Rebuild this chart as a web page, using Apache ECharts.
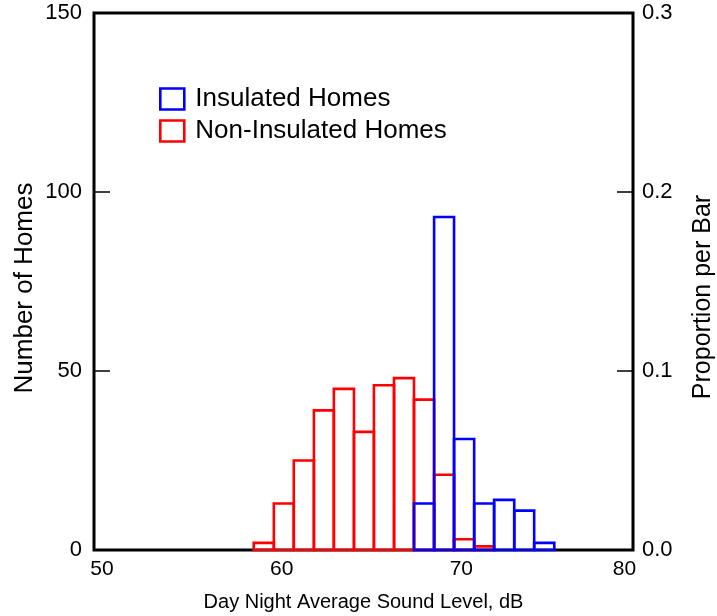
<!DOCTYPE html>
<html>
<head>
<meta charset="utf-8">
<script src="https://cdn.jsdelivr.net/npm/echarts@6/dist/echarts.min.js"></script>
<style>
  html, body { margin: 0; padding: 0; background: #fff; }
  #chart { width: 717px; height: 616px; }
</style>
</head>
<body>
<div id="chart"></div>
<script>
// Histogram bin edges (dB), one more edge than there are bins
const binEdges = [58.89, 60.01, 61.12, 62.24, 63.35, 64.47, 65.58, 66.70,
                  67.81, 68.93, 70.04, 71.16, 72.27, 73.39, 74.50, 75.62];
// Number of homes per bin
const nonInsulatedCounts = [2, 13, 25, 39, 45, 33, 46, 48, 42, 21, 3, 1, 0, 0, 0];
const insulatedCounts    = [0, 0, 0, 0, 0, 0, 0, 0, 13, 93, 31, 13, 14, 11, 2];
const xTicks = [50, 60, 70, 80];
const totalHomes = 500; // count axis max 150 corresponds to proportion 0.3

const FONT = '"Liberation Sans", Arial, sans-serif';
const BLUE = '#0000ff';
const RED = '#ff0000';

function binData(counts) {
  const out = [];
  counts.forEach((c, i) => {
    if (c > 0) out.push([binEdges[i], binEdges[i + 1], c]);
  });
  return out;
}

function histRender(color) {
  return function (params, api) {
    const p0 = api.coord([api.value(0), api.value(2)]);
    const p1 = api.coord([api.value(1), 0]);
    return {
      type: 'rect',
      shape: { x: p0[0], y: p0[1], width: p1[0] - p0[0], height: p1[1] - p0[1] },
      style: { fill: null, stroke: color, lineWidth: 2.6 }
    };
  };
}

const chart = echarts.init(document.getElementById('chart'), null, { renderer: 'canvas' });

chart.setOption({
  animation: false,
  backgroundColor: '#fff',
  grid: {
    left: 94, right: 84, top: 13, bottom: 66,
    outerBoundsMode: 'none',
    containLabel: false,
    show: true, borderColor: '#000', borderWidth: 3, backgroundColor: 'transparent'
  },
  legend: {
    orient: 'vertical',
    left: 154, top: 81,
    itemWidth: 24, itemHeight: 21,
    itemGap: 6,
    textStyle: { fontFamily: FONT, fontSize: 26, color: '#000', padding: [0, 0, 0, 6] },
    data: [
      { name: 'Insulated Homes', icon: 'rect',
        itemStyle: { color: '#fff', borderColor: BLUE, borderWidth: 2.6 } },
      { name: 'Non-Insulated Homes', icon: 'rect',
        itemStyle: { color: '#fff', borderColor: RED, borderWidth: 2.6 } }
    ]
  },
  xAxis: {
    type: 'value',
    min: 50, max: 80, interval: 10,
    name: 'Day Night Average Sound Level, dB',
    nameLocation: 'middle',
    nameGap: 42,
    nameTextStyle: { fontFamily: FONT, fontSize: 20, color: '#000' },
    axisLine: { show: false },
    axisTick: { show: false },
    splitLine: { show: false },
    axisLabel: {
      margin: 9,
      fontFamily: FONT, fontSize: 21, color: '#000',
      formatter: v => (v === xTicks[xTicks.length - 1] ? '{l|' + v + '}' : '{r|' + v + '}'),
      rich: {
        r: { fontFamily: FONT, fontSize: 21, color: '#000', padding: [0, 0, 0, 16] },
        l: { fontFamily: FONT, fontSize: 21, color: '#000', padding: [0, 17, 0, 0] }
      }
    }
  },
  yAxis: [
    {
      type: 'value',
      position: 'left',
      min: 0, max: 150, interval: 50,
      name: 'Number of Homes',
      nameLocation: 'middle',
      nameRotate: 90,
      nameGap: 56,
      nameMoveOverlap: false,
      nameTextStyle: { fontFamily: FONT, fontSize: 26, color: '#000', padding: [0, 13, 0, 0] },
      axisLine: { show: false },
      axisTick: { show: true, inside: true, length: 16, lineStyle: { color: '#000', width: 1.5 } },
      splitLine: { show: false },
      axisLabel: { margin: 12, fontFamily: FONT, fontSize: 22, color: '#000' }
    },
    {
      type: 'value',
      position: 'right',
      min: 0, max: 150 / totalHomes, interval: 0.1,
      name: 'Proportion per Bar',
      nameLocation: 'middle',
      nameRotate: 90,
      nameGap: 58,
      nameTextStyle: { fontFamily: FONT, fontSize: 25, color: '#000', padding: [0, 31, 0, 0] },
      axisLine: { show: false },
      axisTick: { show: true, inside: true, length: 16, lineStyle: { color: '#000', width: 1.5 } },
      splitLine: { show: false },
      axisLabel: {
        margin: 9, fontFamily: FONT, fontSize: 22, color: '#000',
        formatter: v => v.toFixed(1)
      }
    }
  ],
  series: [
    {
      name: 'Non-Insulated Homes',
      type: 'custom',
      yAxisIndex: 0,
      itemStyle: { color: RED },
      renderItem: histRender(RED),
      encode: { x: [0, 1], y: 2 },
      data: binData(nonInsulatedCounts),
      z: 2
    },
    {
      name: 'Insulated Homes',
      type: 'custom',
      yAxisIndex: 0,
      itemStyle: { color: BLUE },
      renderItem: histRender(BLUE),
      encode: { x: [0, 1], y: 2 },
      data: binData(insulatedCounts),
      z: 3
    }
  ]
});
</script>
</body>
</html>
